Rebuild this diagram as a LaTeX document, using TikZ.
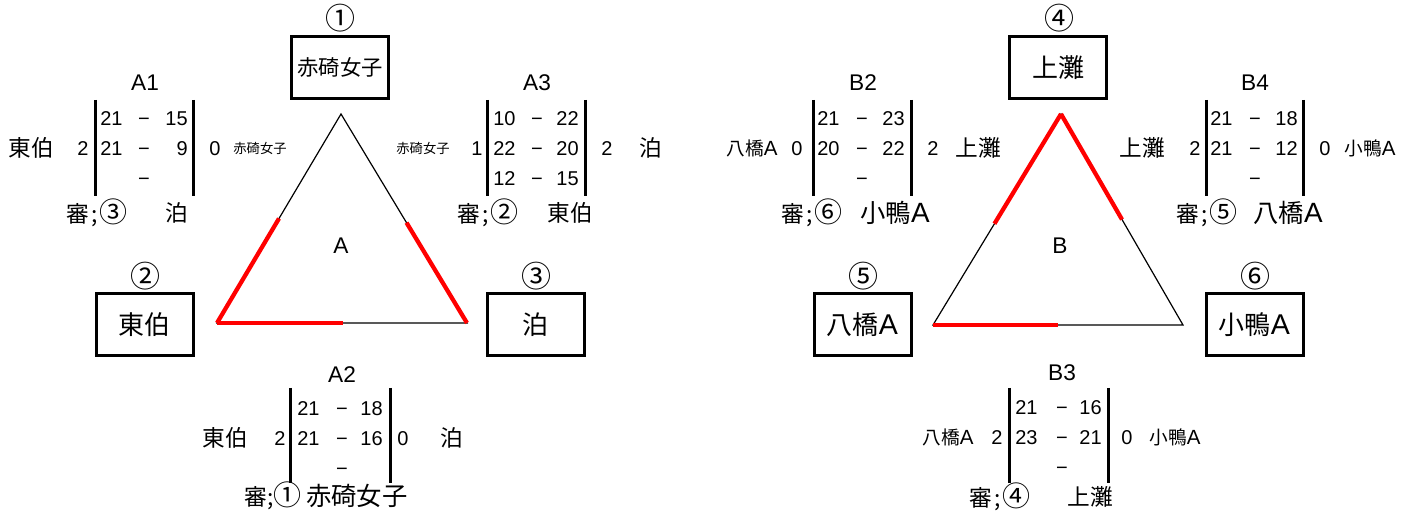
\documentclass[tikz,border=0pt]{standalone}
\usepackage{fontspec}
\setmainfont{Liberation Sans}
\newfontfamily\jp{Noto Sans CJK JP}
\newfontfamily\latA{Liberation Sans}[Scale=1.1]
\usetikzlibrary{calc}
\newcommand\LA{{\latA A}}
\newcommand\cn[1]{{\fontsize{21}{21}\selectfont #1}}
\newcommand\shin[1]{審\hspace{1.5pt};\hspace{1.5pt}\cn{#1}}
\tikzset{
  num/.style={font=\fontsize{15}{15}\selectfont, inner sep=0pt, text height=10.7pt, text depth=0pt},
  jpt/.style={font=\jp\fontsize{17}{17}\selectfont, inner sep=0pt},
  jpb/.style={font=\jp\fontsize{19}{19}\selectfont, inner sep=0pt},
  jpm/.style={font=\jp\fontsize{14}{14}\selectfont, inner sep=0pt},
  jps/.style={font=\jp\fontsize{10}{10}\selectfont, inner sep=0pt},
  lab/.style={font=\fontsize{17}{17}\selectfont, inner sep=0pt},
  circ/.style={font=\jp\fontsize{22.5}{22.5}\selectfont, inner sep=0pt},
  teambox/.style={draw, line width=2.25pt, minimum width=72.75pt, minimum height=46.5pt, inner sep=0pt, font=\jp\fontsize{19.5}{19.5}\selectfont},
  bar/.style={line width=2.25pt},
  tri/.style={line width=0.9pt, line join=miter},
  hl/.style={red, line width=3.2pt}
}
\newcommand\scorerow[7]{%
  \node[num,anchor=west] (#1l) at (#3,#2) {#6};
  \node[num] (#1d) at (#4,#2) {−};
  \node[num,anchor=east] (#1r) at (#5,#2) {#7};}
\begin{document}
\begin{tikzpicture}[x=0.75pt,y=-0.75pt]
\useasboundingbox (0,0) rectangle (1415,513);

% ---------- Group A ----------
\node[circ] (c1) at (340,18) {①};
\node[teambox, font=\jp\fontsize{16}{16}\selectfont] (b1) at (340,67.5) {赤碕女子};
\node[circ] (c2) at (145,276) {②};
\node[teambox] (b2) at (144.5,324.5) {東伯};
\node[circ] (c3) at (536,276) {③};
\node[teambox] (b3) at (535.5,324.5) {泊};

\coordinate (tA) at (341,114);
\coordinate (lA) at (217,323);
\coordinate (rA) at (467,323);
\draw[tri] (tA) -- (lA) -- (rA) -- cycle;
\draw[hl] (lA) -- ($(lA)!0.5!(tA)$);
\draw[hl] (lA) -- ($(lA)!0.505!(rA)$);
\draw[hl] (rA) -- ($(rA)!0.48!(tA)$);
\node[lab] (gA) at (341,246) {A};

% A1
\node[lab] (a1) at (145,83) {A1};
\draw[bar] (95,100) -- (95,196);
\draw[bar] (193,100) -- (193,196);
\scorerow{a1x}{118}{100}{144}{188}{21}{15}
\scorerow{a1y}{148}{100}{144}{188}{21}{9}
\node[num] (a1z) at (144,178) {−};
\node[num] (a1ls) at (83,148) {2};
\node[jpt] (a1lt) at (31,148) {東伯};
\node[num] (a1rs) at (215,148) {0};
\node[jps] (a1rt) at (260,148) {赤碕女子};
\node[jpt] (a1j) at (97,213) {\shin{③}};
\node[jpt] (a1k) at (177,213) {泊};

% A3
\node[lab] (a3) at (537,83) {A3};
\draw[bar] (487,100) -- (487,196);
\draw[bar] (585,100) -- (585,196);
\scorerow{a3x}{118}{493}{537}{579}{10}{22}
\scorerow{a3y}{148}{493}{537}{579}{22}{20}
\scorerow{a3z}{178}{493}{537}{579}{12}{15}
\node[num] (a3ls) at (477,148) {1};
\node[jps] (a3lt) at (423,148) {赤碕女子};
\node[num] (a3rs) at (607,148) {2};
\node[jpt] (a3rt) at (651,148) {泊};
\node[jpt] (a3j) at (488,213) {\shin{②}};
\node[jpt] (a3k) at (570,213) {東伯};

% A2
\node[lab] (a2) at (342,375) {A2};
\draw[bar] (290,388) -- (290,483);
\draw[bar] (390,388) -- (390,483);
\scorerow{a2x}{408}{297}{342}{383}{21}{18}
\scorerow{a2y}{438}{297}{342}{383}{21}{16}
\node[num] (a2z) at (342,468) {−};
\node[num] (a2ls) at (280,438) {2};
\node[jpt] (a2lt) at (225,438) {東伯};
\node[num] (a2rs) at (403,438) {0};
\node[jpt] (a2rt) at (452,438) {泊};
\node[jpt, anchor=east] (a2j) at (302,496) {審;\cn{①}};
\node[jpb, anchor=west] (a2k) at (306,496) {赤碕女子};

% ---------- Group B ----------
\node[circ] (c4) at (1059,18) {④};
\node[teambox] (b4) at (1058,67.5) {上灘};
\node[circ] (c5) at (863,276) {⑤};
\node[teambox] (b5) at (862.5,324.5) {八橋\LA};
\node[circ] (c6) at (1255,276) {⑥};
\node[teambox] (b6) at (1254.5,324.5) {小鴨\LA};

\coordinate (tB) at (1061,114);
\coordinate (lB) at (933,325);
\coordinate (rB) at (1183,325);
\draw[tri] (tB) -- (lB) -- (rB) -- cycle;
\draw[hl] (tB) -- ($(tB)!0.52!(lB)$);
\draw[hl] (tB) -- ($(tB)!0.5!(rB)$);
\draw[hl] (lB) -- ($(lB)!0.5!(rB)$);
\node[lab] (gB) at (1060,246) {B};

% B2
\node[lab] (bb2) at (863,83) {B2};
\draw[bar] (813,100) -- (813,196);
\draw[bar] (911,100) -- (911,196);
\scorerow{b2x}{118}{817}{862}{905}{21}{23}
\scorerow{b2y}{148}{817}{862}{905}{20}{22}
\node[num] (b2z) at (862,178) {−};
\node[num] (b2ls) at (797,148) {0};
\node[jpm] (b2lt) at (752,148) {八橋\LA};
\node[num] (b2rs) at (933,148) {2};
\node[jpt] (b2rt) at (978,148) {上灘};
\node[jpt] (b2j) at (812,213) {\shin{⑥}};
\node[jpb] (b2k) at (895,213) {小鴨\LA};

% B4
\node[lab] (bb4) at (1255,83) {B4};
\draw[bar] (1206,100) -- (1206,196);
\draw[bar] (1303,100) -- (1303,196);
\scorerow{b4x}{118}{1210}{1255}{1298}{21}{18}
\scorerow{b4y}{148}{1210}{1255}{1298}{21}{12}
\node[num] (b4z) at (1255,178) {−};
\node[num] (b4ls) at (1195,148) {2};
\node[jpt] (b4lt) at (1142,148) {上灘};
\node[num] (b4rs) at (1325,148) {0};
\node[jpm] (b4rt) at (1370,148) {小鴨\LA};
\node[jpt] (b4j) at (1207,213) {\shin{⑤}};
\node[jpb] (b4k) at (1288,213) {八橋\LA};

% B3
\node[lab] (bb3) at (1062,373) {B3};
\draw[bar] (1009,388) -- (1009,483);
\draw[bar] (1108,388) -- (1108,483);
\scorerow{b3x}{407}{1015}{1062}{1102}{21}{16}
\scorerow{b3y}{437}{1015}{1062}{1102}{23}{21}
\node[num] (b3z) at (1062,467) {−};
\node[num] (b3ls) at (997,437) {2};
\node[jpm] (b3lt) at (948,437) {八橋\LA};
\node[num] (b3rs) at (1127,437) {0};
\node[jpm] (b3rt) at (1175,437) {小鴨\LA};
\node[jpt] (b3j) at (1000,497) {\shin{④}};
\node[jpt] (b3k) at (1090,497) {上灘};
\end{tikzpicture}
\end{document}
